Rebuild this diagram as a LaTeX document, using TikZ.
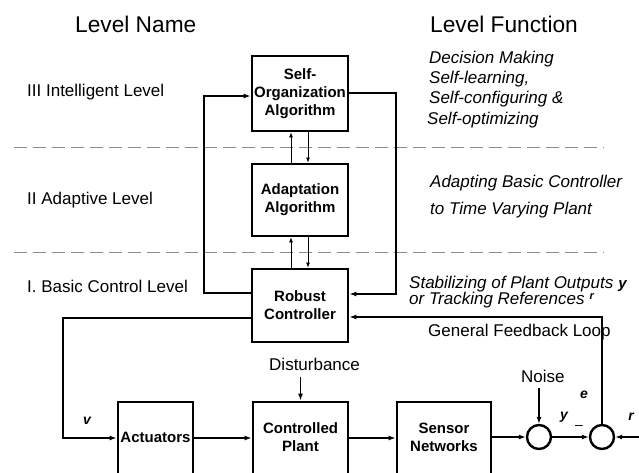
\documentclass[tikz,border=0pt]{standalone}
\usepackage{fontspec}
\setmainfont{Liberation Sans}
\usetikzlibrary{arrows.meta}
\begin{document}
\begin{tikzpicture}[x=1pt,y=-1pt,
  box/.style={draw,line width=2.8pt,minimum width=96pt,inner sep=0pt,align=center,
    font=\fontsize{15}{18}\selectfont\bfseries},
  btext/.style={inner sep=0pt,align=center,font=\fontsize{15}{18}\selectfont\bfseries},
  sumj/.style={draw,circle,line width=2.4pt,minimum size=24pt,inner sep=0pt},
  arr/.style={line width=1.3pt,-{Latex[length=7pt,width=5pt]}},
  tarr/.style={line width=0.8pt,-{Latex[length=5pt,width=4pt]}},
  dashline/.style={draw=black!45,line width=1pt,dash pattern=on 12.5pt off 6.5pt},
  head/.style={inner sep=0pt,anchor=base west,font=\fontsize{22.7}{26}\selectfont},
  lbl/.style={inner sep=0pt,anchor=base west,font=\fontsize{17}{20}\selectfont},
  ilbl/.style={inner sep=0pt,anchor=base west,font=\fontsize{17}{20}\selectfont\itshape},
  var/.style={inner sep=0pt,font=\fontsize{14}{16}\selectfont\bfseries\itshape}
]
\clip (0,0) rectangle (639,472);

% headings
\node[head] (hname) at (75,32) {Level Name};
\node[head] (hfunc) at (430,32) {Level Function};

% level names
\node[lbl] (l3) at (27,96) {III Intelligent Level};
\node[lbl] (l2) at (27,204) {II Adaptive Level};
\node[lbl] (l1) at (27,292) {I. Basic Control Level};

% level functions
\node[ilbl] (f1) at (429,63) {Decision Making};
\node[ilbl] (f2) at (429,83) {Self-learning,};
\node[ilbl] (f3) at (429,103) {Self-configuring \&};
\node[ilbl] (f4) at (427,124) {Self-optimizing};
\node[ilbl] (f5) at (430,187) {Adapting Basic Controller};
\node[ilbl] (f6) at (430,214) {to Time Varying Plant};
\node[inner sep=0pt,anchor=north west,align=left,
      font=\fontsize{17}{15.5}\selectfont\itshape] (f7) at (409,275.5)
  {Stabilizing of Plant Outputs\hspace{5pt}{\fontsize{15}{15}\selectfont\bfseries y}\\
   or Tracking References\hspace{5pt}\raisebox{5pt}{\fontsize{11}{11}\selectfont\bfseries r}};

% dashed separators
\draw[dashline] (14,147) -- (604,147);
\draw[dashline] (14,252) -- (604,252);

% upper blocks
\node[box,minimum height=75pt] (selforg) at (300,93.5) {Self-\\Organization\\Algorithm};
\node[box,minimum height=72pt] (adapt) at (300,200) {Adaptation\\Algorithm};
\node[box,minimum height=73pt] (robust) at (300,305.5) {Robust\\Controller};

% arrows between upper blocks
\draw[tarr] (adapt.north -| 291,0) -- (selforg.south -| 291,0);
\draw[tarr] (selforg.south -| 308,0) -- (adapt.north -| 308,0);
\draw[tarr] (robust.north -| 291,0) -- (adapt.south -| 291,0);
\draw[tarr] (adapt.south -| 308,0) -- (robust.north -| 308,0);

% loops
\draw[arr] (robust.west |- 0,293) -| (204,96) -- (selforg.west |- 0,96);
\draw[arr] (selforg.east |- 0,93) -| (396,294) -- (robust.east |- 0,294);

% lower blocks
\node[box,minimum width=75pt,minimum height=88pt] (act) at (155.5,446) {};
\node[box,minimum width=95pt,minimum height=88pt] (plant) at (300.5,446) {};
\node[box,minimum width=94pt,minimum height=88pt] (sensor) at (444,446) {};
\node[btext] (actT) at (155.5,437) {Actuators};
\node[btext] (plantT) at (300.5,437) {Controlled\\Plant};
\node[btext] (sensorT) at (444,437) {Sensor\\Networks};

\node[sumj] (sum1) at (539,437) {};
\node[sumj] (sum2) at (602,437) {};

% control output
\draw[arr] (robust.west |- 0,318) -| (63,438) -- (act.west |- 0,438);
\node[var] (vv) at (87,421) {v};

\draw[arr] (act.east |- 0,438) -- (plant.west |- 0,438);
\draw[arr] (plant.east |- 0,438) -- (sensor.west |- 0,438);
\draw[arr] (sensor.east |- sum1) -- (sum1.west);
\draw[arr] (sum1.east) -- (sum2.west);
\draw[arr] ([xshift=30pt]sum2.east) -- (sum2.east);

% feedback loop
\draw[arr] (sum2.north) |- (robust.east |- 0,317);
\node[lbl] (gfl) at (428,336) {General Feedback Loop};

% disturbance and noise
\node[lbl] (dist) at (269,370) {Disturbance};
\draw[arr] ([yshift=24pt]plant.north) -- (plant.north);
\node[lbl] (noise) at (521,382) {Noise};
\draw[arr] ([yshift=36pt]sum1.north) -- (sum1.north);

% signal labels
\node[var] (ve) at (584,395) {e};
\node[var] (vy) at (564,417) {y};
\node[var,font=\fontsize{14}{16}\selectfont] (vminus) at (579,427) {--};
\node[var] (vr) at (631,417) {r};
\end{tikzpicture}
\end{document}
